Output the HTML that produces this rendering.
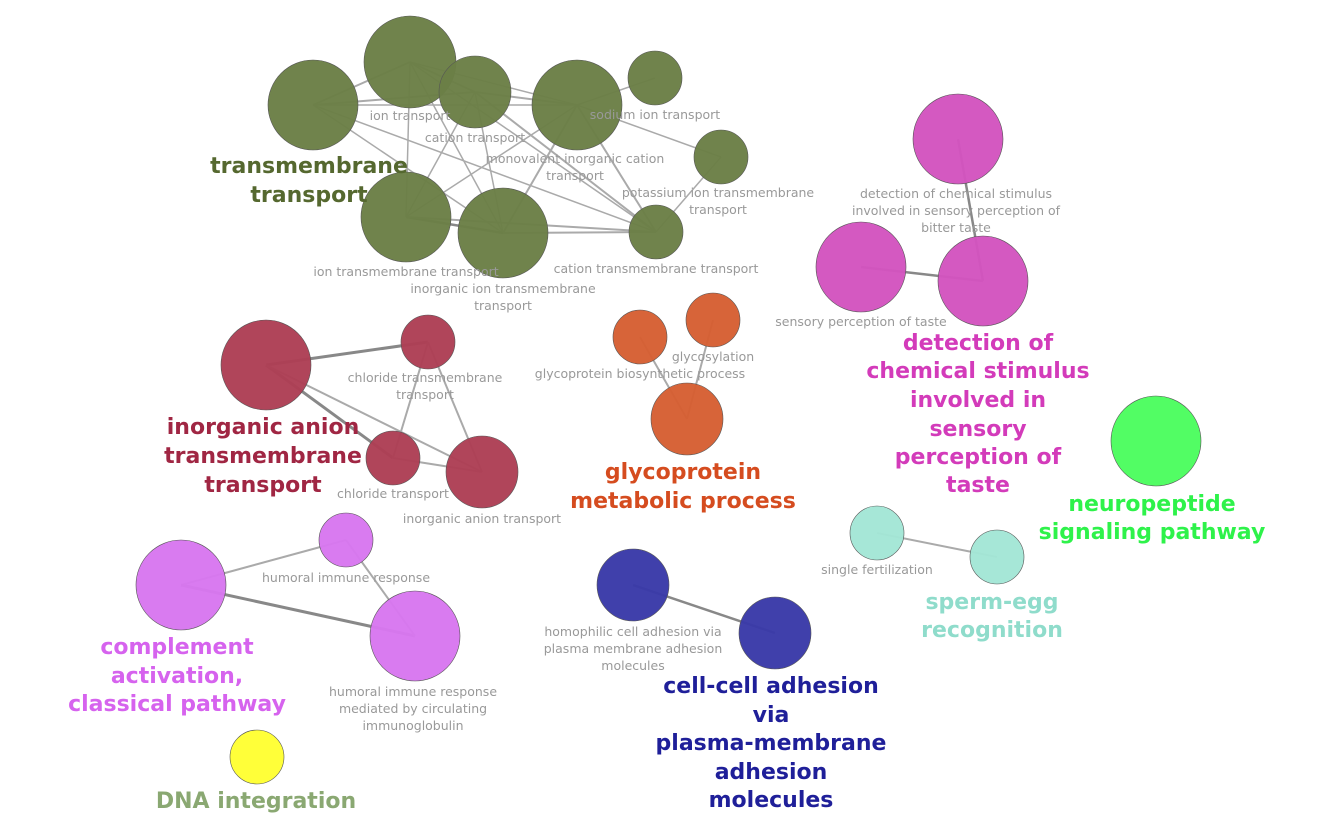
<!DOCTYPE html>
<html><head><meta charset="utf-8"><style>
html,body{margin:0;padding:0;background:#fff;width:1336px;height:838px;overflow:hidden}
svg text{font-family:"DejaVu Sans","Liberation Sans",sans-serif}
.s{fill:#999;font-size:12.5px}
.b{font-size:22px;font-weight:bold}
</style></head><body>
<svg id="net" width="1336" height="838"></svg>
<script>
const nodeIds=["A","B","C","D","Na","K","F","G","H","R1","R2","R3","R4","O1","O2","O3","M1","M2","M3","N1","T1","T2","U1","U2","V1","V2","V3","Y1"];
const nodeX=[313,410,475,577,655,721,656,406,503,266,428,393,482,640,713,687,958,861,983,1156,877,997,633,775,181,346,415,257];
const nodeY=[105,62,92,105,78,157,232,217,233,365,342,458,472,337,320,419,139,267,281,441,533,557,585,633,585,540,636,757];
const nodeSize=[45,46,36,45,27,27,27,45,45,45,27,27,36,27,27,36,45,45,45,45,27,27,36,36,45,27,45,27];
const nodeColor=["#6b7f46","#6b7f46","#6b7f46","#6b7f46","#6b7f46","#6b7f46","#6b7f46","#6b7f46","#6b7f46","#ad3f55","#ad3f55","#ad3f55","#ad3f55","#d65f33","#d65f33","#d65f33","#d354bf","#d354bf","#d354bf","#4cfd5f","#a3e6d6","#a3e6d6","#3a3aa8","#3a3aa8","#d877ef","#d877ef","#d877ef","#ffff33"];
const edgeFrom=["A","A","A","A","A","B","B","B","B","B","C","C","C","C","D","D","D","D","D","K","G","G","H","R1","R1","R1","R2","R2","R3","O1","O2","M1","M2","T1","U1","V1","V1","V2"];
const edgeTo=["B","C","D","F","H","C","D","G","H","F","D","G","H","F","Na","G","H","F","K","F","H","F","F","R2","R3","R4","R3","R4","R4","O3","O3","M3","M3","T2","U2","V2","V3","V3"];
const edgeW=[2,2,1.5,1.5,1.5,2,1.5,1.5,1.5,1.5,2,1.5,1.5,2,1.5,1.5,2,2,1.5,1.5,2.5,2,2,3,3,2,2,2,2,2,2,2.5,2.5,2,2.5,2,3,2];
const smallLabels=[["ion transport",410,120],["cation transport",475,142],["sodium ion transport",655,119],["monovalent inorganic cation",575,163],["transport",575,180],["potassium ion transmembrane",718,197],["transport",718,214],["ion transmembrane transport",406,276],["inorganic ion transmembrane",503,293],["transport",503,310],["cation transmembrane transport",656,273],["detection of chemical stimulus",956,198],["involved in sensory perception of",956,215],["bitter taste",956,232],["sensory perception of taste",861,326],["chloride transmembrane",425,382],["transport",425,399],["chloride transport",393,498],["inorganic anion transport",482,523],["glycosylation",713,361],["glycoprotein biosynthetic process",640,378],["single fertilization",877,574],["humoral immune response",346,582],["humoral immune response",413,696],["mediated by circulating",413,713],["immunoglobulin",413,730],["homophilic cell adhesion via",633,636],["plasma membrane adhesion",633,653],["molecules",633,670]];
const bigLabels=[["transmembrane",309,173,"#55682f"],["transport",309,202,"#55682f"],["inorganic anion",263,434,"#a02643"],["transmembrane",263,463,"#a02643"],["transport",263,492,"#a02643"],["glycoprotein",683,479,"#d54c1f"],["metabolic process",683,508,"#d54c1f"],["detection of",978,350,"#d33bba"],["chemical stimulus",978,378,"#d33bba"],["involved in",978,407,"#d33bba"],["sensory",978,436,"#d33bba"],["perception of",978,464,"#d33bba"],["taste",978,492,"#d33bba"],["neuropeptide",1152,511,"#2ef24a"],["signaling pathway",1152,539,"#2ef24a"],["sperm-egg",992,609,"#8fdccb"],["recognition",992,637,"#8fdccb"],["complement",177,654,"#d663ee"],["activation,",177,683,"#d663ee"],["classical pathway",177,711,"#d663ee"],["cell-cell adhesion",771,693,"#1f1f99"],["via",771,722,"#1f1f99"],["plasma-membrane",771,750,"#1f1f99"],["adhesion",771,779,"#1f1f99"],["molecules",771,807,"#1f1f99"],["DNA integration",256,808,"#8aa872"]];
const svg=document.getElementById('net');const NS="http://www.w3.org/2000/svg";
function idx(id){return nodeIds.indexOf(id);}
for(let i=0;i<edgeFrom.length;i++){const a=idx(edgeFrom[i]),b=idx(edgeTo[i]);const l=document.createElementNS(NS,'line');


l.setAttribute('x1',nodeX[a]);l.setAttribute('y1',nodeY[a]);l.setAttribute('x2',nodeX[b]);l.setAttribute('y2',nodeY[b]);
l.setAttribute('stroke',edgeW[i]>2?'#888':'#aaa');l.setAttribute('stroke-width',edgeW[i]);svg.appendChild(l);}
for(let i=0;i<nodeIds.length;i++){const c=document.createElementNS(NS,'circle');


c.setAttribute('cx',nodeX[i]);c.setAttribute('cy',nodeY[i]);c.setAttribute('r',nodeSize[i]);c.setAttribute('fill',nodeColor[i]);c.setAttribute('fill-opacity',0.97);c.setAttribute('stroke','#555');c.setAttribute('stroke-width',0.6);svg.appendChild(c);}
for(const s of smallLabels){const t=document.createElementNS(NS,'text');


t.setAttribute('class','s');t.setAttribute('x',s[1]);t.setAttribute('y',s[2]);t.setAttribute('text-anchor','middle');t.textContent=s[0];svg.appendChild(t);}
for(const s of bigLabels){const t=document.createElementNS(NS,'text');


t.setAttribute('class','b');t.setAttribute('x',s[1]);t.setAttribute('y',s[2]);t.setAttribute('fill',s[3]);t.setAttribute('text-anchor','middle');t.textContent=s[0];svg.appendChild(t);}
</script>
</body></html>
